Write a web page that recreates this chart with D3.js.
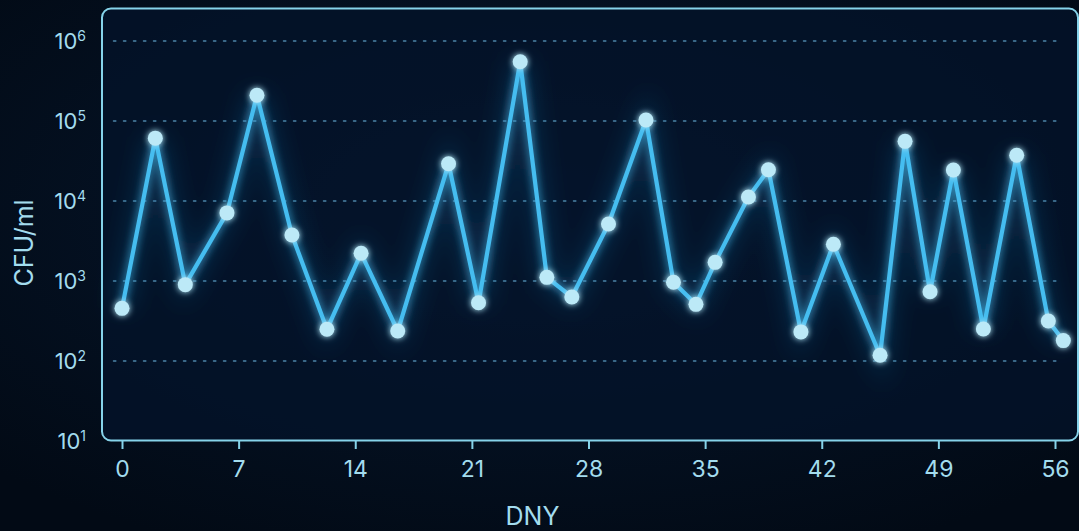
<!DOCTYPE html>
<html>
<head>
<meta charset="utf-8">
<script src="https://cdn.jsdelivr.net/npm/d3@7"></script>
<style>
  html, body { margin: 0; padding: 0; background: #020a16; overflow: hidden; }
  svg { display: block; }
</style>
</head>
<body>
<svg id="chart" width="1079" height="531"></svg>
<script>
// ---- data ----
const days = [0, 2, 3.8, 6.3, 8.1, 10.2, 12.3, 14.35, 16.55, 19.6, 21.4, 23.9, 25.5, 27.0, 29.2, 31.45, 33.1, 34.45, 35.6, 37.6, 38.8, 40.75, 42.7, 45.5, 47.0, 48.5, 49.9, 51.7, 53.7, 55.6, 56.5];
const cfu = [455, 61000, 900, 7100, 210000, 3760, 249, 2220, 237, 29200, 534, 550000, 1110, 631, 5150, 103000, 965, 511, 1710, 11200, 24600, 231, 2880, 118, 55700, 734, 24400, 251, 37300, 316, 180];
const xTicks = [0, 7, 14, 21, 28, 35, 42, 49, 56];
const yTicks = [10, 100, 1000, 10000, 100000, 1000000];
const yExp = ["1", "2", "3", "4", "5", "6"];
const xTitle = "DNY";
const yTitle = "CFU/ml";

const W = 1079, H = 531;
const svg = d3.select("#chart");
const x = d3.scaleLinear().domain([0, 56]).range([122, 1055]);
const y = d3.scaleLog().domain([10, 1e6]).range([441, 41]);

const defs = svg.append("defs");
const bg = defs.append("radialGradient").attr("id", "bg").attr("cx", "50%").attr("cy", "40%").attr("r", "70%");
bg.append("stop").attr("offset", "0%").attr("stop-color", "#061830");
bg.append("stop").attr("offset", "100%").attr("stop-color", "#020a15");
function mkGlow(id, sd) {
  const f = defs.append("filter").attr("id", id).attr("filterUnits", "userSpaceOnUse")
    .attr("x", 0).attr("y", 0).attr("width", W).attr("height", H);
  f.append("feGaussianBlur").attr("in", "SourceGraphic").attr("stdDeviation", sd).attr("result", "b");
  const m = f.append("feMerge");
  m.append("feMergeNode").attr("in", "b");
  m.append("feMergeNode").attr("in", "SourceGraphic");
}
mkGlow("glow", 4);
mkGlow("glowPt", 3);
const soft = defs.append("filter").attr("id", "soft").attr("filterUnits", "userSpaceOnUse")
  .attr("x", 0).attr("y", 0).attr("width", W).attr("height", H);
soft.append("feGaussianBlur").attr("stdDeviation", 12);

svg.append("rect").attr("width", W).attr("height", H).attr("fill", "url(#bg)");

// frame
svg.append("rect")
  .attr("x", 102).attr("y", 8.5).attr("width", 976).attr("height", 432)
  .attr("rx", 9).attr("ry", 9)
  .attr("fill", "#041329").attr("fill-opacity", 0.8)
  .attr("stroke", "#86d3ea").attr("stroke-width", 2);

// grid
const txt = "#a3dcee";
const font = "Inter, 'Liberation Sans', Arial, sans-serif";
svg.append("g").selectAll("line").data(yTicks.slice(1)).join("line")
  .attr("x1", x(-0.5)).attr("x2", x(56.5))
  .attr("y1", d => y(d)).attr("y2", d => y(d))
  .attr("stroke", "#3a6888").attr("stroke-width", 1.8)
  .attr("stroke-dasharray", "2,8").attr("stroke-linecap", "round");

// x axis ticks
const xAxis = d3.axisBottom(x).tickValues(xTicks).tickSize(8).tickPadding(12);
const gx = svg.append("g").attr("transform", "translate(0,441)").call(xAxis);
gx.select(".domain").remove();
gx.selectAll(".tick line").attr("stroke", "#86d3ea").attr("stroke-width", 2);
gx.selectAll(".tick text").attr("fill", txt).attr("font-size", 23).attr("font-family", font);

// y axis labels
const gy = svg.append("g");
const yl = gy.selectAll("text").data(yTicks).join("text")
  .attr("x", 86).attr("y", d => y(d)).attr("dy", "0.36em")
  .attr("text-anchor", "end").attr("fill", txt)
  .attr("font-family", font).attr("font-size", 22);
yl.append("tspan").text("10");
yl.append("tspan").attr("dy", "-0.6em").attr("font-size", 14).text((d, i) => yExp[i]);

// titles
svg.append("text").attr("x", x(28) - 56).attr("y", 525).attr("text-anchor", "middle")
  .attr("fill", txt).attr("font-family", font).attr("font-size", 25).text(xTitle);
svg.append("text").attr("transform", "translate(33,243) rotate(-90)").attr("text-anchor", "middle")
  .attr("fill", txt).attr("font-family", font).attr("font-size", 25).text(yTitle);

// series
const pts = days.map((d, i) => [d, cfu[i]]);
const line = d3.line().x(d => x(d[0])).y(d => y(d[1]));
svg.append("path").datum(pts).attr("d", line)
  .attr("fill", "none").attr("stroke", "#1d6fa8").attr("stroke-width", 16)
  .attr("stroke-opacity", 0.3).attr("filter", "url(#soft)");
svg.append("path").datum(pts).attr("d", line)
  .attr("fill", "none").attr("stroke", "#45bdf0").attr("stroke-width", 4.2)
  .attr("stroke-linejoin", "round").attr("filter", "url(#glow)");
svg.append("g").attr("filter", "url(#glowPt)").selectAll("circle").data(pts).join("circle")
  .attr("cx", d => x(d[0])).attr("cy", d => y(d[1])).attr("r", 7.5)
  .attr("fill", "#bce9f7");
</script>
</body>
</html>
